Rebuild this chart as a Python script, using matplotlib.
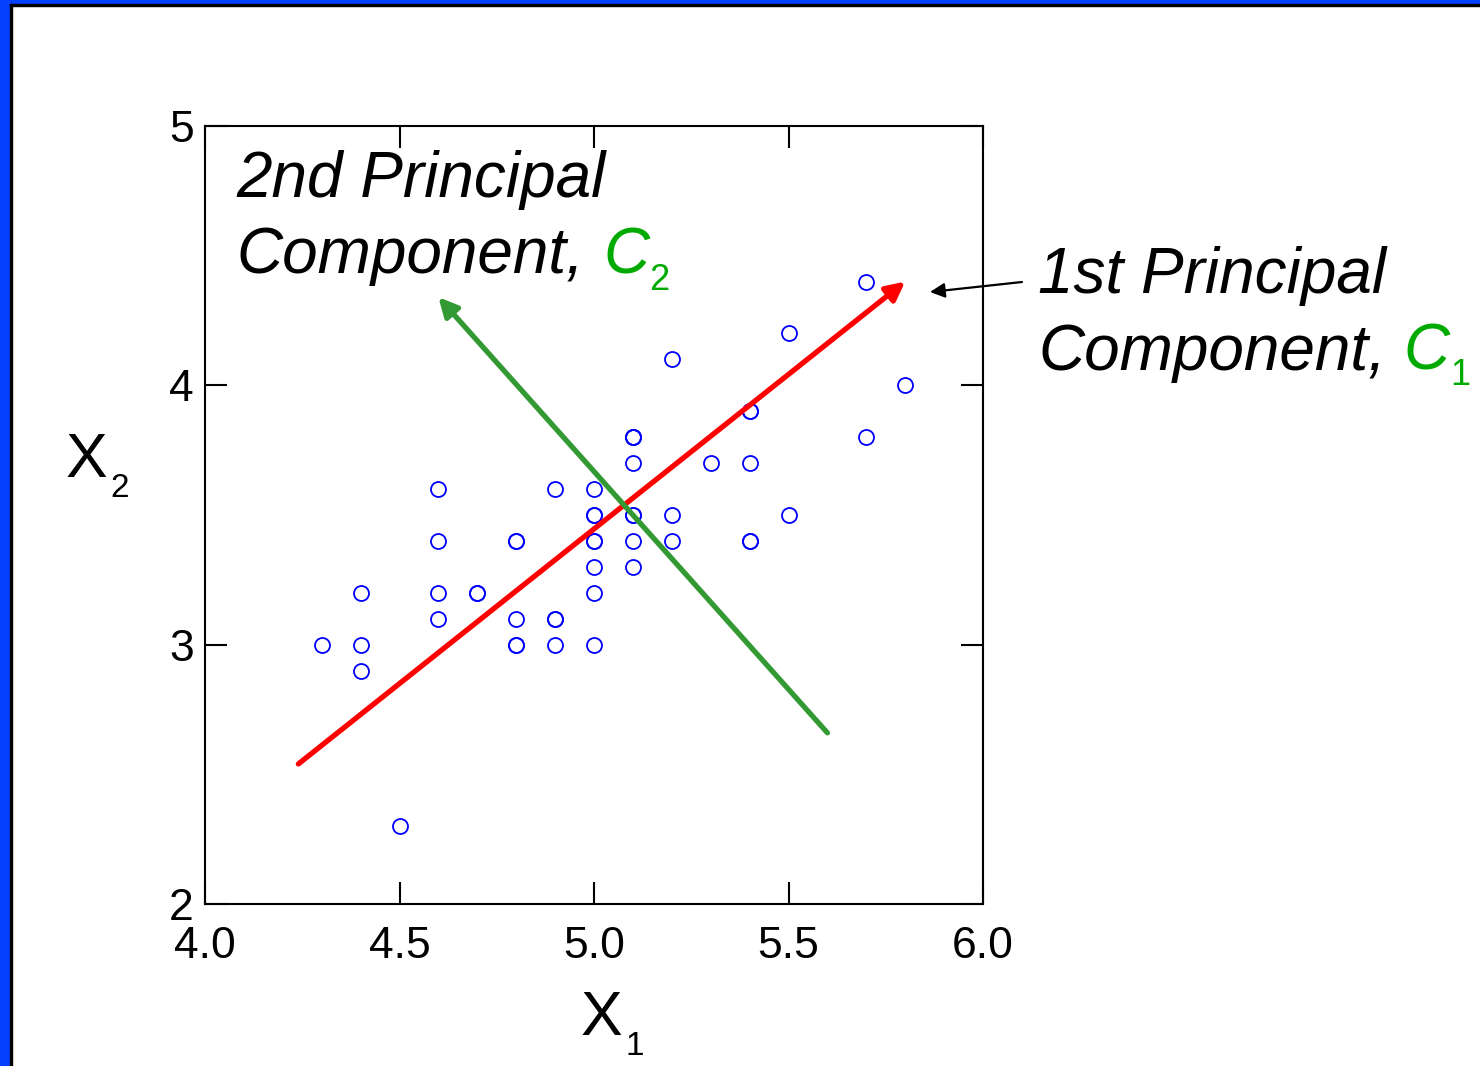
import matplotlib
matplotlib.use('Agg')
import matplotlib.pyplot as plt
from matplotlib.patches import Rectangle

plt.rcParams['font.family'] = ['Liberation Sans', 'DejaVu Sans']

# sepal measurements (X1, X2)
x1 = [5.1, 4.9, 4.7, 4.6, 5.0, 5.4, 4.6, 5.0, 4.4, 4.9,
      5.4, 4.8, 4.8, 4.3, 5.8, 5.7, 5.4, 5.1, 5.7, 5.1,
      5.4, 5.1, 4.6, 5.1, 4.8, 5.0, 5.0, 5.2, 5.2, 4.7,
      4.8, 5.4, 5.2, 5.5, 4.9, 5.0, 5.5, 4.9, 4.4, 5.1,
      5.0, 4.5, 4.4, 5.0, 5.1, 4.8, 5.1, 4.6, 5.3, 5.0]
x2 = [3.5, 3.0, 3.2, 3.1, 3.6, 3.9, 3.4, 3.4, 2.9, 3.1,
      3.7, 3.4, 3.0, 3.0, 4.0, 4.4, 3.9, 3.5, 3.8, 3.8,
      3.4, 3.7, 3.6, 3.3, 3.4, 3.0, 3.4, 3.5, 3.4, 3.2,
      3.1, 3.4, 4.1, 4.2, 3.1, 3.2, 3.5, 3.6, 3.0, 3.4,
      3.5, 2.3, 3.2, 3.5, 3.8, 3.0, 3.8, 3.2, 3.7, 3.3]

# principal component arrows (tail, head) in data units
pc1_tail = (4.24, 2.54)
pc1_head = (5.80, 4.40)
pc2_tail = (5.60, 2.66)
pc2_head = (4.60, 4.34)

x_ticks = [4.0, 4.5, 5.0, 5.5, 6.0]
x_tick_labels = ['4.0', '4.5', '5.0', '5.5', '6.0']
y_ticks = [2, 3, 4, 5]
y_tick_labels = ['2', '3', '4', '5']

W, H = 1480, 1066
GREEN_TXT = '#00AA00'
GREEN_ARR = '#339933'
BLUE_FRAME = '#0341FF'


def fx(px):
    return px / W


def fy(py):
    return 1 - py / H


fig = plt.figure(figsize=(W / 100, H / 100), dpi=100)

# slide frame on left and top edges
fig.patches.append(Rectangle((0, 0), fx(10), 1, transform=fig.transFigure,
                             color=BLUE_FRAME, zorder=0))
fig.patches.append(Rectangle((0, fy(4)), 1, 1 - fy(4), transform=fig.transFigure,
                             color=BLUE_FRAME, zorder=0))
fig.patches.append(Rectangle((fx(10), 0), fx(2), fy(4), transform=fig.transFigure,
                             color='black', zorder=0))
fig.patches.append(Rectangle((fx(10), fy(6)), 1, fy(4) - fy(6), transform=fig.transFigure,
                             color='black', zorder=0))

ax = fig.add_axes([fx(205), fy(904), fx(983) - fx(205), fy(126) - fy(904)])

ax.plot(x1, x2, 'o', mfc='none', mec='#0000FF', ms=10.8, mew=1.3, zorder=2)

ax.annotate('', xy=pc1_head, xytext=pc1_tail,
            arrowprops=dict(arrowstyle='-|>', color='#FF0000', lw=3.8,
                            mutation_scale=28, shrinkA=0, shrinkB=0),
            zorder=3)
ax.annotate('', xy=pc2_head, xytext=pc2_tail,
            arrowprops=dict(arrowstyle='-|>', color=GREEN_ARR, lw=3.8,
                            mutation_scale=28, shrinkA=0, shrinkB=0),
            zorder=3)

ax.set_xlim(4.0, 6.0)
ax.set_ylim(2, 5)
ax.set_xticks(x_ticks)
ax.set_xticklabels(x_tick_labels)
ax.set_yticks(y_ticks)
ax.set_yticklabels(y_tick_labels)
ax.tick_params(axis='both', direction='in', length=16, width=1.5,
               top=True, right=True, labelsize=32)
ax.tick_params(axis='x', pad=16)
ax.tick_params(axis='y', pad=8)
for s in ax.spines.values():
    s.set_linewidth(1.5)

# axis labels with subscripts
fig.text(fx(581), fy(1035), 'X', fontsize=45, va='baseline')
fig.text(fx(626), fy(1055), '1', fontsize=24, va='baseline')
fig.text(fx(66), fy(477), 'X', fontsize=45, va='baseline')
fig.text(fx(110), fy(497), '2', fontsize=24, va='baseline')

# component labels
it = dict(fontsize=46, style='italic', va='baseline')
fig.text(fx(236), fy(197), '2nd Principal', **it)
fig.text(fx(236), fy(273), 'Component,', **it)
fig.text(fx(603), fy(273), 'C', color=GREEN_TXT, **it)
fig.text(fx(649), fy(290), '2', color=GREEN_TXT, fontsize=26, va='baseline')

fig.text(fx(1038), fy(293), '1st Principal', **it)
fig.text(fx(1038), fy(370), 'Component,', **it)
fig.text(fx(1403), fy(370), 'C', color=GREEN_TXT, **it)
fig.text(fx(1450), fy(385), '1', color=GREEN_TXT, fontsize=26, va='baseline')

fig.add_artist(matplotlib.patches.FancyArrowPatch(
    (fx(1022), fy(282)), (fx(930), fy(292)), transform=fig.transFigure,
    arrowstyle='-|>', mutation_scale=22, lw=1.6, color='black',
    shrinkA=0, shrinkB=0, zorder=5))

fig.savefig('out.png', dpi=100)
